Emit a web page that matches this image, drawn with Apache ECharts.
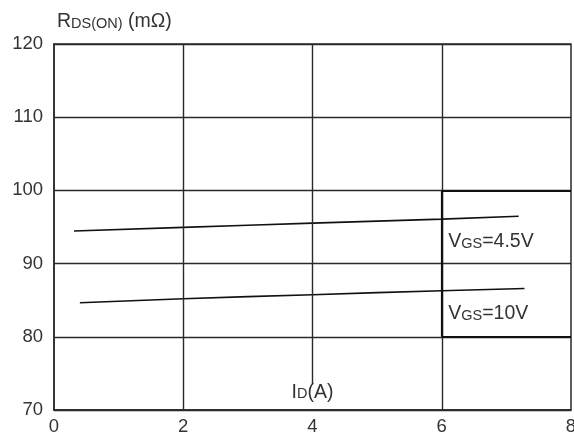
<!DOCTYPE html>
<html><head><meta charset="utf-8">
<script src="https://cdn.jsdelivr.net/npm/echarts@6/dist/echarts.min.js"></script>
<style>html,body{margin:0;padding:0;background:#fff}#c{width:574px;height:440px}</style>
</head><body><div id="c"></div>
<script>
const xTicks = [0, 2, 4, 6, 8];
const yTicks = [70, 80, 90, 100, 110, 120];
const vgs45 = [[0.31, 94.46], [2, 94.95], [4, 95.53], [6, 96.08], [7.19, 96.46]];
const vgs10 = [[0.4, 84.65], [2, 85.2], [4, 85.75], [6, 86.3], [7.28, 86.6]];
const labelVgs45 = [6.1, 92.95];
const labelVgs10 = [6.1, 83.1];
const labelId = [4, 72.4];

const FONT = '"Liberation Sans", Arial, sans-serif';
const TXT = '#333';
const GRID = '#2a2a2a';

const chart = echarts.init(document.getElementById('c'), null, {renderer: 'canvas'});
const rich = {
  b: {fontSize: 19.5, fontFamily: FONT, color: TXT, verticalAlign: 'bottom'},
  s: {fontSize: 14.5, fontFamily: FONT, color: TXT, verticalAlign: 'bottom', padding: [0, 0, 1, 0]}
};

const lineStyleGrid = {color: GRID, width: 1.4, type: 'solid'};
const lineStyleBold = {color: '#111', width: 2.2, type: 'solid'};

chart.setOption({
  animation: false,
  grid: {left: 54, right: 3, top: 44, bottom: 30, show: true, borderColor: GRID, borderWidth: 1.5, outerBoundsMode: 'none', containLabel: false},
  xAxis: {
    type: 'value', min: 0, max: 8, interval: 2,
    axisLine: {show: true, onZero: false, lineStyle: {color: GRID, width: 1.5}},
    axisTick: {show: false},
    splitLine: {show: false},
    axisLabel: {fontSize: 18.5, fontFamily: FONT, color: TXT, margin: 7}
  },
  yAxis: {
    type: 'value', min: 70, max: 120, interval: 10,
    name: '{b|R}{s|DS(ON)}{b| (mΩ)}',
    nameLocation: 'end', nameGap: 12,
    nameTextStyle: {align: 'left', padding: [0, 0, 0, 3], rich: rich},
    axisLine: {show: true, lineStyle: {color: GRID, width: 1.5}},
    axisTick: {show: false},
    splitLine: {show: true, lineStyle: lineStyleGrid},
    axisLabel: {fontSize: 18.5, fontFamily: FONT, color: TXT, margin: 11}
  },
  series: [
    {
      type: 'line', data: vgs45, smooth: true, symbol: 'none',
      lineStyle: {color: '#111', width: 1.6},
      markLine: {
        silent: true, symbol: 'none', label: {show: false},
        data: [
          {xAxis: xTicks[1], lineStyle: lineStyleGrid},
          [{coord: [xTicks[2], 73.5], lineStyle: lineStyleGrid}, {coord: [xTicks[2], yTicks[5]]}],
          {xAxis: xTicks[3], lineStyle: lineStyleGrid},
          [{coord: [xTicks[3], yTicks[1]], lineStyle: lineStyleBold}, {coord: [xTicks[3], yTicks[3]]}],
          [{coord: [xTicks[3], yTicks[3]], lineStyle: lineStyleBold}, {coord: [xTicks[4], yTicks[3]]}],
          [{coord: [xTicks[3], yTicks[1]], lineStyle: lineStyleBold}, {coord: [xTicks[4], yTicks[1]]}]
        ]
      },
      markPoint: {
        silent: true, symbol: 'circle', symbolSize: 0,
        data: [
          {coord: labelVgs45, label: {show: true, position: 'right', distance: 0, formatter: '{b|V}{s|GS}{b|=4.5V}', rich: rich}},
          {coord: labelVgs10, label: {show: true, position: 'right', distance: 0, formatter: '{b|V}{s|GS}{b|=10V}', rich: rich}},
          {coord: labelId, label: {show: true, position: 'inside', formatter: '{b|I}{s|D}{b|(A)}', rich: rich}}
        ]
      }
    },
    {
      type: 'line', data: vgs10, smooth: true, symbol: 'none',
      lineStyle: {color: '#111', width: 1.6}
    }
  ]
});
</script></body></html>
